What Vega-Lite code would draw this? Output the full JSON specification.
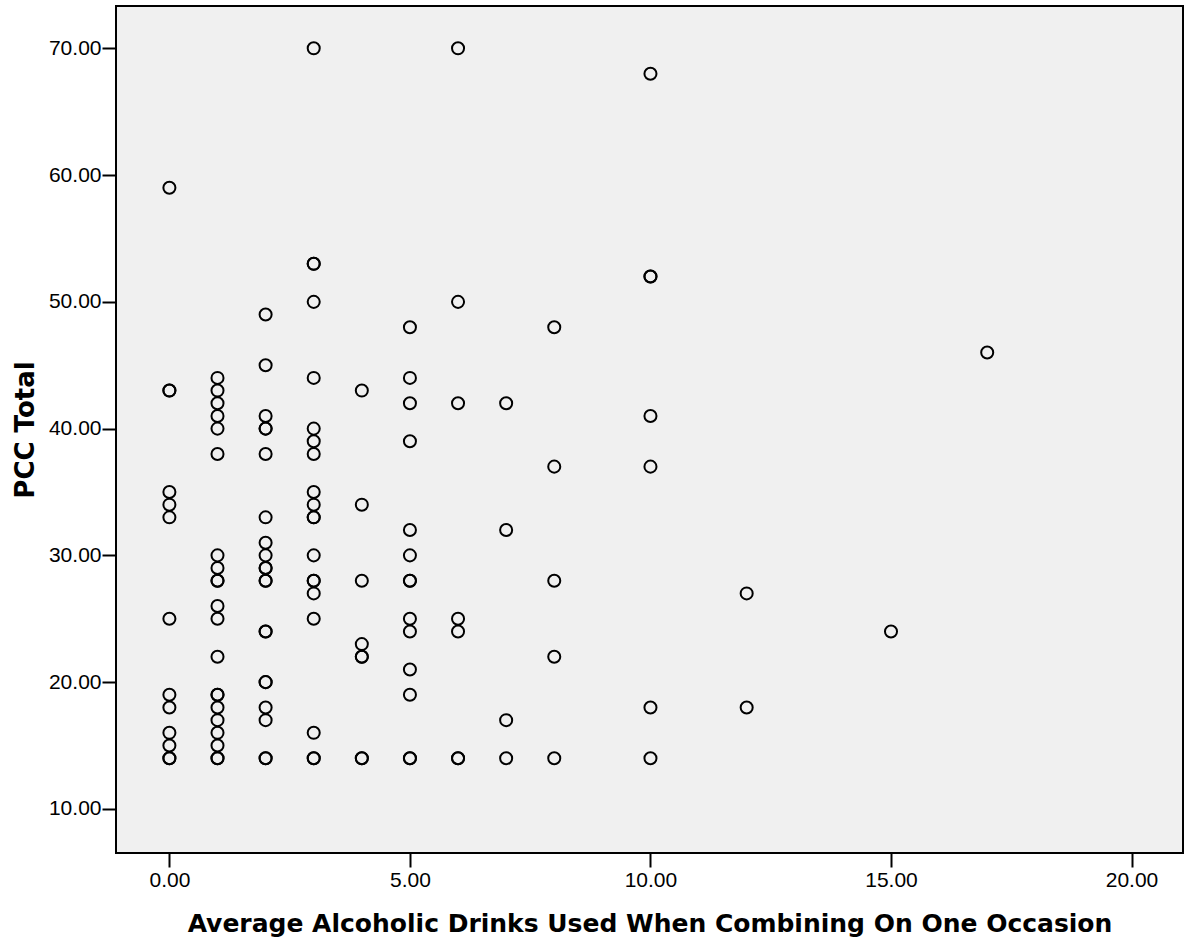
{
  "$schema": "https://vega.github.io/schema/vega-lite/v6.json",
  "width": 1067,
  "height": 847,
  "autosize": "none",
  "padding": {"left": 116, "top": 6, "right": 7, "bottom": 91},
  "background": "white",
  "config": {
    "view": {"fill": "#f0f0f0", "stroke": "black", "strokeWidth": 2},
    "font": "Liberation Sans",
    "axis": {
      "grid": false,
      "domain": false,
      "tickColor": "black",
      "tickWidth": 2,
      "tickSize": 14,
      "labelFont": "Liberation Sans",
      "labelFontSize": 21,
      "labelColor": "black",
      "titleFont": "DejaVu Sans",
      "titleFontWeight": "bold",
      "titleColor": "black"
    }
  },
  "datasets": {
    "pts": [
      {"x": 0, "y": 59}, {"x": 0, "y": 43}, {"x": 0, "y": 43}, {"x": 0, "y": 35}, {"x": 0, "y": 34}, {"x": 0, "y": 33}, {"x": 0, "y": 25}, {"x": 0, "y": 19}, {"x": 0, "y": 18}, {"x": 0, "y": 16}, {"x": 0, "y": 15}, {"x": 0, "y": 14}, {"x": 0, "y": 14},
      {"x": 1, "y": 44}, {"x": 1, "y": 43}, {"x": 1, "y": 42}, {"x": 1, "y": 41}, {"x": 1, "y": 40}, {"x": 1, "y": 38}, {"x": 1, "y": 30}, {"x": 1, "y": 29}, {"x": 1, "y": 28}, {"x": 1, "y": 28}, {"x": 1, "y": 26}, {"x": 1, "y": 25}, {"x": 1, "y": 22}, {"x": 1, "y": 19}, {"x": 1, "y": 19}, {"x": 1, "y": 18}, {"x": 1, "y": 17}, {"x": 1, "y": 16}, {"x": 1, "y": 15}, {"x": 1, "y": 14}, {"x": 1, "y": 14},
      {"x": 2, "y": 49}, {"x": 2, "y": 45}, {"x": 2, "y": 41}, {"x": 2, "y": 40}, {"x": 2, "y": 40}, {"x": 2, "y": 38}, {"x": 2, "y": 33}, {"x": 2, "y": 31}, {"x": 2, "y": 30}, {"x": 2, "y": 29}, {"x": 2, "y": 29}, {"x": 2, "y": 28}, {"x": 2, "y": 28}, {"x": 2, "y": 24}, {"x": 2, "y": 24}, {"x": 2, "y": 20}, {"x": 2, "y": 20}, {"x": 2, "y": 18}, {"x": 2, "y": 17}, {"x": 2, "y": 14}, {"x": 2, "y": 14},
      {"x": 3, "y": 70}, {"x": 3, "y": 53}, {"x": 3, "y": 53}, {"x": 3, "y": 50}, {"x": 3, "y": 44}, {"x": 3, "y": 40}, {"x": 3, "y": 39}, {"x": 3, "y": 38}, {"x": 3, "y": 35}, {"x": 3, "y": 34}, {"x": 3, "y": 33}, {"x": 3, "y": 33}, {"x": 3, "y": 30}, {"x": 3, "y": 28}, {"x": 3, "y": 28}, {"x": 3, "y": 27}, {"x": 3, "y": 25}, {"x": 3, "y": 16}, {"x": 3, "y": 14}, {"x": 3, "y": 14},
      {"x": 4, "y": 43}, {"x": 4, "y": 34}, {"x": 4, "y": 28}, {"x": 4, "y": 23}, {"x": 4, "y": 22}, {"x": 4, "y": 22}, {"x": 4, "y": 14}, {"x": 4, "y": 14},
      {"x": 5, "y": 48}, {"x": 5, "y": 44}, {"x": 5, "y": 42}, {"x": 5, "y": 39}, {"x": 5, "y": 32}, {"x": 5, "y": 30}, {"x": 5, "y": 28}, {"x": 5, "y": 28}, {"x": 5, "y": 25}, {"x": 5, "y": 24}, {"x": 5, "y": 21}, {"x": 5, "y": 19}, {"x": 5, "y": 14}, {"x": 5, "y": 14},
      {"x": 6, "y": 70}, {"x": 6, "y": 50}, {"x": 6, "y": 42}, {"x": 6, "y": 25}, {"x": 6, "y": 24}, {"x": 6, "y": 14}, {"x": 6, "y": 14},
      {"x": 7, "y": 42}, {"x": 7, "y": 32}, {"x": 7, "y": 17}, {"x": 7, "y": 14},
      {"x": 8, "y": 48}, {"x": 8, "y": 37}, {"x": 8, "y": 28}, {"x": 8, "y": 22}, {"x": 8, "y": 14},
      {"x": 10, "y": 68}, {"x": 10, "y": 52}, {"x": 10, "y": 52}, {"x": 10, "y": 41}, {"x": 10, "y": 37}, {"x": 10, "y": 18}, {"x": 10, "y": 14},
      {"x": 12, "y": 27}, {"x": 12, "y": 18},
      {"x": 15, "y": 24},
      {"x": 17, "y": 46}
    ]
  },
  "data": {"name": "pts"},
  "mark": {"type": "point", "shape": "circle", "filled": false, "stroke": "black", "strokeWidth": 2, "size": 145, "opacity": 1},
  "encoding": {
    "x": {
      "field": "x", "type": "quantitative",
      "scale": {"domain": [-1.11, 21.07], "nice": false, "zero": false},
      "axis": {"values": [0, 5, 10, 15, 20], "format": ".2f", "labelPadding": 2, "title": "Average Alcoholic Drinks Used When Combining On One Occasion", "titleFontSize": 25, "titlePadding": 21}
    },
    "y": {
      "field": "y", "type": "quantitative",
      "scale": {"domain": [6.52, 73.34], "nice": false, "zero": false},
      "axis": {"values": [10, 20, 30, 40, 50, 60, 70], "format": ".2f", "labelPadding": 1, "title": "PCC Total", "titleFontSize": 26, "titlePadding": 10}
    }
  }
}
